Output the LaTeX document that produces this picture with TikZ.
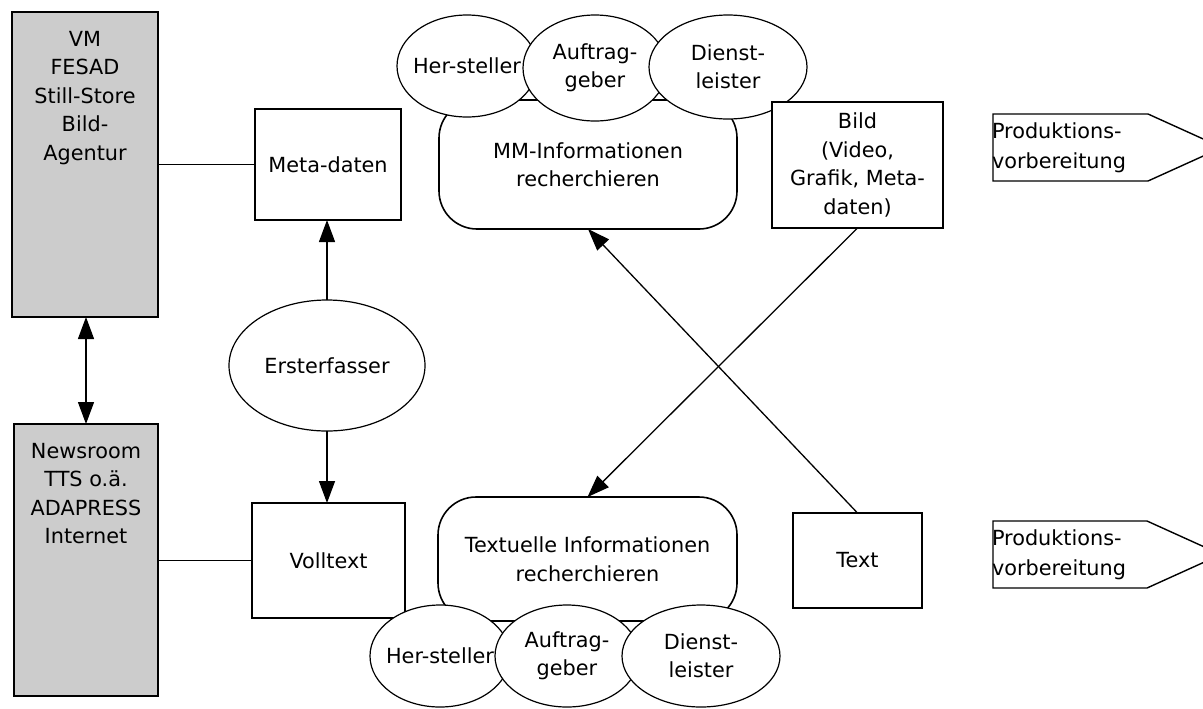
\documentclass[tikz,border=0pt]{standalone}
\usepackage{fontspec}
\setmainfont{DejaVu Sans}
\usetikzlibrary{arrows.meta,shapes.geometric}
\definecolor{sysgray}{RGB}{204,204,204}

\begin{document}
\begin{tikzpicture}[x=0.5pt,y=-0.5pt,
  font=\fontsize{10.4}{14.25}\selectfont,
  every node/.style={inner sep=0pt, outer sep=0pt},
  line/.style={line width=0.65pt},
  arr/.style={line width=0.65pt, -{Triangle[length=11pt,width=8pt]}},
  dblarr/.style={line width=0.65pt, {Triangle[length=11pt,width=8pt]}-{Triangle[length=11pt,width=8pt]}},
  sysbox/.style={draw, rectangle, line width=0.8pt, fill=sysgray},
  systext/.style={anchor=north, align=center},
  databox/.style={draw, rectangle, line width=0.8pt, fill=white, align=center},
  task/.style={draw, rectangle, line width=0.8pt, rounded corners=19pt, fill=white, align=center},
  role/.style={draw, ellipse, line width=0.6pt, fill=white, align=center,
               font=\fontsize{10.4}{14}\selectfont},
  prodtext/.style={anchor=west, align=left, font=\fontsize{10.4}{15}\selectfont},
  prodshape/.style={draw, line width=0.7pt, fill=white}
]
\useasboundingbox[fill=white] (0,0) rectangle (1203,708);
\clip (0,0) rectangle (1203,708);

% source systems
\node[sysbox, minimum width=73pt, minimum height=152.5pt] (vmtop) at (85,164.5) {};
\node[systext] (vmtext) at (85,31) {VM\\FESAD\\Still-Store\\Bild-\\Agentur};
\node[sysbox, minimum width=72pt, minimum height=136pt] (news) at (86,560) {};
\node[systext] (newstext) at (86,443) {Newsroom\\TTS o.ä.\\ADAPRESS\\Internet};

% capture
\node[databox, minimum width=73pt, minimum height=55.5pt] (meta) at (328,164.5) {Meta-daten};
\node[databox, minimum width=76.5pt, minimum height=57.5pt] (voll) at (328.5,560.5) {Volltext};
\node[draw, ellipse, line width=0.6pt, fill=white, minimum width=98pt, minimum height=65.5pt] (erst) at (327,365.5) {Ersterfasser};

% multimedia research
\node[task, minimum width=149pt, minimum height=64.5pt] (mm) at (588,164.5) {MM-Informationen\\recherchieren};
\node[role, minimum width=70pt, minimum height=51pt] (her1) at (467,66) {\makebox[0pt]{Her-steller}};
\node[role, minimum width=72pt, minimum height=53pt] (auf1) at (595,68) {Auftrag-\\geber};
\node[role, minimum width=79pt, minimum height=52pt] (die1) at (728,67) {Dienst-\\leister};
\node[databox, minimum width=85.5pt, minimum height=63pt] (bild) at (857.5,165) {Bild\\(Video,\\Grafik, Meta-\\daten)};

% textual research
\node[task, minimum width=149.5pt, minimum height=62pt] (tex) at (587.5,559) {Textuelle Informationen\\recherchieren};
\node[role, minimum width=70pt, minimum height=51pt] (her2) at (440,656) {\makebox[0pt]{Her-steller}};
\node[role, minimum width=72pt, minimum height=51pt] (auf2) at (567,656) {Auftrag-\\geber};
\node[role, minimum width=79pt, minimum height=51pt] (die2) at (701,656) {Dienst-\\leister};
\node[databox, minimum width=64.5pt, minimum height=47.5pt] (textb) at (857.5,560.5) {Text};

% production preparation
\draw[prodshape] (993,114) -- (1148,114) -- (1222,147.5) -- (1148,181) -- (993,181) -- cycle;
\node[prodtext] (prod1) at (992,147.5) {Produktions-\\vorbereitung};
\draw[prodshape] (993,521) -- (1147,521) -- (1221,554.5) -- (1147,588) -- (993,588) -- cycle;
\node[prodtext] (prod2) at (992,554.5) {Produktions-\\vorbereitung};

% connectors
\draw[dblarr] (vmtop.south -| news.north) -- (news.north);
\draw[line] (vmtop.east) -- (meta.west);
\draw[line] (news.east |- voll.west) -- (voll.west);
\draw[arr] (erst.north) -- (erst.north |- meta.south);
\draw[arr] (erst.south) -- (erst.south |- voll.north);
\draw[arr] (textb.north) -- (mm.south);
\draw[arr] (bild.south) -- (tex.north);
\end{tikzpicture}
\end{document}
